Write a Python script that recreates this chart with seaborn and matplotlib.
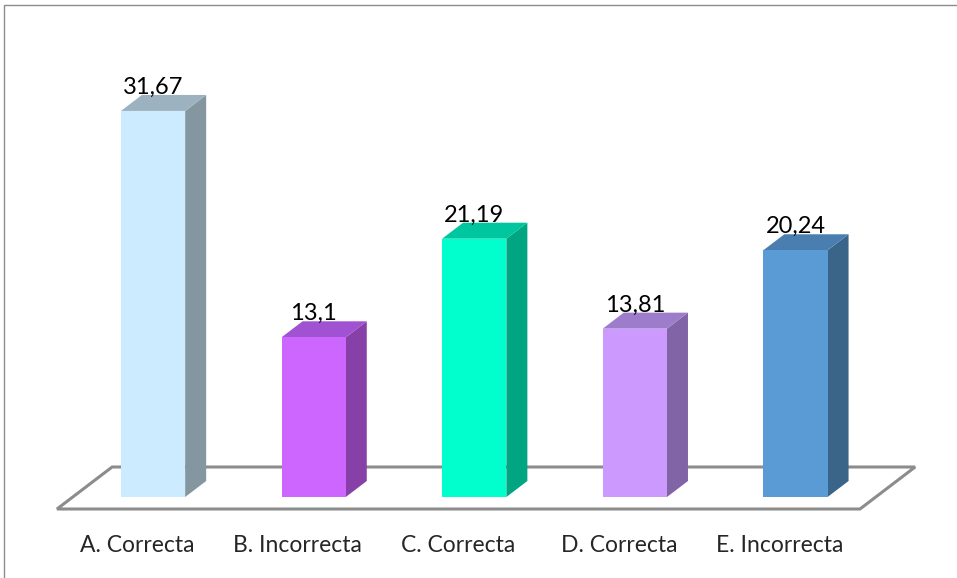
import numpy as np
import pandas as pd
import seaborn as sns
import matplotlib.pyplot as plt
from matplotlib.patches import Polygon, Rectangle
from matplotlib.transforms import ScaledTranslation

# chart data
categories = ['A. Correcta', 'B. Incorrecta', 'C. Correcta', 'D. Correcta', 'E. Incorrecta']
values = [31.67, 13.1, 21.19, 13.81, 20.24]
labels = ['31,67', '13,1', '21,19', '13,81', '20,24']

front_colors = ['#CCEBFE', '#CC66FF', '#00FFCC', '#CC99FF', '#5B9BD5']
side_colors = ['#8497A0', '#8640A8', '#00A582', '#8064A6', '#3A6589']
top_colors = ['#9DB2C0', '#A052D2', '#00C6A0', '#9E7CCC', '#4A7EB0']

sns.set_style('white')
plt.rcParams['font.family'] = ['Lato', 'DejaVu Sans']

W, H = 957, 578
fig = plt.figure(figsize=(W / 100, H / 100), dpi=100)
ax = fig.add_axes([72.75 / W, (H - 497) / H, 803 / W, 477 / H])

df = pd.DataFrame({'cat': categories, 'val': values})
sns.barplot(data=df, x='cat', y='val', hue='cat', palette=front_colors,
            width=0.4, saturation=1, legend=False, ax=ax, zorder=3)
ax.set_xlim(-0.5, 4.5)
ax.set_ylim(0, 477 / 12.19)
for sp in ax.spines.values():
    sp.set_visible(False)
ax.set_yticks([])
ax.set_xlabel('')
ax.set_ylabel('')
fig.canvas.draw()

# 3D depth offset in pixels
dx, dy = 21, 16

# floor
def disp(x, y):
    return ax.transData.transform((x, y))

floor = []
for xx, t in [(-0.5, -0.75), (4.5, -0.75), (4.5, 1.875), (-0.5, 1.875)]:
    px, py = disp(xx, 0)
    floor.append((px + dx * t, py + dy * t))
ax.add_patch(Polygon(floor, closed=True, transform=None, facecolor='white',
                     edgecolor='#8C8C8C', lw=2.2, zorder=1, clip_on=False))

# side and top faces from the bar patches
for i, bar in enumerate(ax.patches[:len(values)]):
    bar.set_edgecolor('none')
    x0, x1 = bar.get_x(), bar.get_x() + bar.get_width()
    h = bar.get_height()
    fl, fr = disp(x0, h), disp(x1, h)
    br = disp(x1, 0)
    side = [br, fr, fr + [dx, dy], br + [dx, dy]]
    top = [fl, fr, fr + [dx, dy], fl + [dx, dy]]
    ax.add_patch(Polygon(side, closed=True, transform=None, facecolor=side_colors[i],
                         edgecolor='none', zorder=2, clip_on=False))
    ax.add_patch(Polygon(top, closed=True, transform=None, facecolor=top_colors[i],
                         edgecolor='none', zorder=2, clip_on=False))
    ax.annotate(labels[i], (i, h), xytext=(0, dy + 1), textcoords='offset pixels',
                ha='center', va='baseline', fontsize=17, color='black',
                annotation_clip=False, zorder=5)

# category labels, centred on the front edge of the floor
ax.tick_params(axis='x', length=0, pad=27, labelsize=16.5)
shift = ScaledTranslation(-0.75 * dx / 100, 0, fig.dpi_scale_trans)
for lab in ax.get_xticklabels():
    lab.set_transform(lab.get_transform() + shift)

# chart border
fig.patches.append(Rectangle((4 / W, -0.1), 1.2, (H - 5) / H + 0.1,
                             transform=fig.transFigure, fill=False,
                             edgecolor='#8C8C8C', lw=1))

fig.savefig('out.png', dpi=100)
